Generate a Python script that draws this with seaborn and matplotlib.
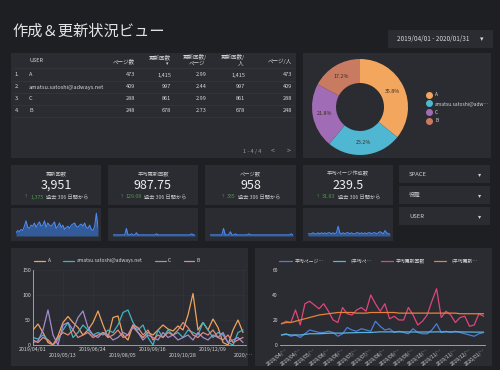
import matplotlib
matplotlib.use("Agg")
import numpy as np
import pandas as pd
import matplotlib.pyplot as plt
import seaborn as sns
from matplotlib.patches import Rectangle
from matplotlib.lines import Line2D
from matplotlib.offsetbox import TextArea, HPacker, AnnotationBbox

# ---- データ ----
users = ["A", "amatsu.satoshi@adways.net", "C", "B"]
users_short = ["A", "amatsu.satoshi@adw…", "C", "B"]
pages = [473, 409, 288, 248]
updates = [1415, 997, 861, 678]
upd_per_page = [2.99, 2.44, 2.99, 2.73]
upd_per_user = [1415, 997, 861, 678]
page_per_user = [473, 409, 288, 248]

kpi_titles = ["更新回数", "平均更新回数", "ページ数", "平均ページ作成数"]
kpi_values = ["3,951", "987.75", "958", "239.5"]
kpi_deltas = ["1,375", "129.08", "335", "31.83"]

spark_update = [3, 5, 4, 6, 5, 9, 14, 8, 7, 10, 9, 12, 8, 11, 13, 9, 10, 14, 8, 12,
                10, 9, 11, 13, 7, 9, 12, 8, 10, 6, 8, 9, 7, 10, 11, 12, 9, 8, 10, 11,
                9, 12, 8, 7, 10, 6, 5, 9, 21, 8]
spark_avg_update = [1, 1, 1, 1, 1, 1, 1, 1, 7, 1, 1, 2, 1, 1, 3, 1, 1, 1, 1, 1,
                    1, 1, 1, 1, 1, 1, 2, 1, 1, 1, 1, 1, 1, 1, 1, 1, 1, 1, 1, 1,
                    1, 1, 1, 1, 1, 1, 1, 2, 1, 1]
spark_pages = [1, 1, 1, 1, 1, 1, 1, 1, 7, 1, 1, 1, 4, 1, 1, 2, 1, 1, 1, 1,
               1, 1, 1, 2, 1, 1, 1, 1, 1, 1, 1, 1, 1, 1, 1, 1, 1, 1, 1, 1,
               1, 1, 1, 1, 1, 1, 1, 1, 2, 1]
spark_avg_pages = [2, 2, 2, 3, 2, 2, 3, 2, 3, 2, 3, 2, 3, 3, 2, 3, 2, 3, 9, 3,
                   2, 3, 2, 3, 3, 2, 3, 2, 2, 3, 3, 2, 3, 2, 3, 2, 3, 3, 2, 3,
                   3, 2, 3, 4, 3, 2, 5, 3, 2, 2]

filters = ["SPACE", "役職", "USER"]

# 週次推移（2019/04/01〜）
line_a = [30, 42, 25, 5, 0, 18, 45, 57, 45, 35, 20, 30, 45, 68, 40, 15, 55, 58, 20, 10,
          40, 25, 15, 25, 20, 30, 40, 32, 28, 38, 30, 60, 103, 30, 45, 30, 52, 35, 5, 0,
          30, 50, 25]
line_amatsu = [15, 12, 20, 10, 0, 10, 30, 45, 15, 25, 40, 30, 20, 25, 20, 30, 25, 40, 65, 70,
               45, 30, 40, 15, 0, 30, 15, 30, 20, 25, 15, 30, 25, 20, 45, 30, 15, 25, 20, 5,
               0, 25, 30]
line_c = [5, 8, 30, 70, 20, 0, 40, 45, 30, 55, 68, 35, 20, 15, 25, 20, 10, 15, 25, 20,
          35, 25, 10, 20, 15, 10, 25, 15, 20, 10, 15, 20, 10, 25, 15, 10, 20, 15, 25, 5,
          10, 15, 5]
line_b = [10, 5, 15, 10, 0, 15, 25, 20, 30, 15, 20, 25, 15, 20, 25, 15, 20, 30, 15, 20,
          40, 35, 20, 30, 10, 20, 15, 25, 20, 30, 45, 35, 20, 15, 25, 20, 30, 15, 10, 20,
          5, 10, 15]
left_ticks = ["2019/04/01", "\n2019/05/13", "2019/06/24", "\n2019/08/05",
              "2019/09/16", "\n2019/10/28", "2019/12/09", "\n2020/…"]

avg_page = [8, 9, 7, 8, 6, 9, 12, 11, 10, 10, 11, 10, 7, 9, 14, 12, 11, 13, 12, 11,
            19, 15, 12, 13, 10, 11, 10, 9, 13, 10, 9, 9, 12, 17, 10, 11, 10, 11, 10, 9,
            8, 7, 9, 10]
avg_page_cum = [8, 8.5, 8, 8, 8, 8.5, 9, 9, 9, 9.2, 9.4, 9.5, 9.5, 9.5, 9.7, 9.8, 9.9, 10,
                10, 10, 10.3, 10.5, 10.5, 10.5, 10.5, 10.5, 10.5, 10.4, 10.4, 10.4, 10.4,
                10.4, 10.4, 10.5, 10.5, 10.5, 10.5, 10.5, 10.5, 10.4, 10.4, 10.3, 10.3, 10.3]
avg_update = [17, 19, 18, 28, 16, 33, 35, 32, 29, 33, 27, 20, 18, 30, 25, 24, 28, 30, 27, 40,
              33, 27, 33, 21, 23, 20, 20, 30, 24, 16, 19, 24, 35, 45, 22, 27, 24, 18, 22, 23,
              15, 16, 25, 23]
avg_update_cum = [17, 18, 18, 19, 20, 21, 22, 23, 24, 24.5, 25, 25.5, 26, 26, 26, 26, 25.5,
                  25.5, 25.5, 26, 26, 26, 26, 26, 26, 25.5, 25.5, 25.5, 25.5, 25.5, 25.5,
                  25.5, 25.5, 25.5, 25.5, 25.5, 25.5, 25.5, 25, 25, 25, 25, 25, 25]
right_names = ["平均ページ…", "（平均ペ…", "平均更新回数", "（平均更新…"]
right_ticks = ["2019/04/…", "2019/04/…", "2019/05/…", "2019/06/…", "2019/06/…",
               "2019/07/…", "2019/07/…", "2019/08/…", "2019/09/…", "2019/09/…",
               "2019/10/…", "2019/11/…", "2019/11/…", "2019/12/…", "2020/01/…"]

# ---- 色 ----
BG = "#1e1f23"
PANEL = "#2a2c31"
TXT = "#d6d6d6"
DIM = "#9a9a9a"
GREEN = "#4f9a4a"
SPARK = "#3d82f0"
pie_colors = ["#f2a65e", "#4fb7d1", "#a06cb6", "#c97b62"]
left_colors = ["#f0a35e", "#44b3c2", "#a48bd0", "#e08a80"]
right_colors = ["#4a7fd8", "#5bb3dd", "#e0457b", "#e8823a"]

sns.set_theme(style="dark")
plt.rcParams["font.family"] = ["Noto Sans CJK JP", "DejaVu Sans"]
plt.rcParams["axes.unicode_minus"] = False

W, H = 500, 370
fig = plt.figure(figsize=(5, 3.7), dpi=100, facecolor=BG)


def fx(x):
    return x / W


def fy(y):
    return 1 - y / H


def rect(x, y, w, h):
    return [x / W, 1 - (y + h) / H, w / W, h / H]


def box(x, y, w, h, color=PANEL):
    fig.add_artist(Rectangle((x / W, 1 - (y + h) / H), w / W, h / H,
                             transform=fig.transFigure, facecolor=color,
                             edgecolor="none", zorder=0))


def txt(x, y, s, size=4, color=TXT, ha="left", **kw):
    fig.text(fx(x), fy(y), s, size=size, color=color, ha=ha, va="center", **kw)


# タイトル・期間
txt(12, 31, "作成＆更新状況ビュー", size=11, color="#e4e4e4")
box(388, 30, 105, 18)
txt(397, 39, "2019/04/01 - 2020/01/31", size=4.6, color=TXT)
txt(482, 39, "▾", size=5, color=TXT, ha="center")

# ---- テーブル ----
box(11, 53, 285, 105)
txt(29, 61, "USER", size=4)
txt(135, 61, "ページ数", size=4, ha="right")
txt(171, 57, "更新回数", size=4, ha="right")
txt(167, 63.5, "▾", size=3.5, ha="center")
txt(207, 57, "更新回数/", size=4, ha="right")
txt(205, 63, "ページ", size=4, ha="right")
txt(245, 57, "更新回数/", size=4, ha="right")
txt(241, 63, "人", size=4, ha="center")
txt(292, 61, "ページ/人", size=4, ha="right")
for ly in [68, 81, 93, 105, 117]:
    fig.add_artist(Line2D([fx(13), fx(294)], [fy(ly)] * 2, color="#3a3c43", lw=0.4,
                          transform=fig.transFigure))
row_y = [75, 87, 99, 111]
col_x = [135, 171, 207, 245, 292]
for i, u in enumerate(users):
    txt(15, row_y[i], f"{i + 1}.", size=4)
    txt(29, row_y[i], u, size=4)
    vals = [f"{pages[i]:,}", f"{updates[i]:,}", f"{upd_per_page[i]:.2f}",
            f"{upd_per_user[i]:,}", f"{page_per_user[i]:,}"]
    for cx, v in zip(col_x, vals):
        txt(cx, row_y[i], v, size=4, ha="right")
txt(252, 151, "1 - 4 / 4", size=4, color=DIM, ha="center")
txt(273, 151, "<", size=5, color=DIM, ha="center")
txt(289, 151, ">", size=5, color=DIM, ha="center")

# ---- ドーナツ ----
box(303, 53, 188, 105)
ax_pie = fig.add_axes(rect(312, 59, 96, 96))
ax_pie.set_facecolor("none")
wedges, _, autotexts = ax_pie.pie(updates, colors=pie_colors, startangle=90, counterclock=False,
                                  autopct="%1.1f%%", pctdistance=0.75,
                                  wedgeprops=dict(width=0.5, edgecolor="none"),
                                  textprops=dict(size=3.8, color="#3a2a20"))
ax_pie.set_xlim(-1, 1)
ax_pie.set_ylim(-1, 1)
ax_pie.set_aspect("equal")
handles = [Line2D([], [], marker="o", ls="", color=c, ms=4) for c in pie_colors]
ax_pie.legend(handles, users_short, loc="upper left", bbox_to_anchor=(fx(422), fy(90)),
              bbox_transform=fig.transFigure, frameon=False, fontsize=3.5, labelcolor=TXT,
              handletextpad=0.2, labelspacing=0.75, borderpad=0)

# ---- KPI ----
card_x = [11, 108, 205, 303]
card_w = [90, 90, 91, 90]
sparks = [spark_update, spark_avg_update, spark_pages, spark_avg_pages]
for i in range(4):
    x0, w = card_x[i], card_w[i]
    cx = x0 + w / 2
    box(x0, 165, w, 40)
    txt(cx, 174, kpi_titles[i], size=3.8, color="#c8c8c8", ha="center")
    txt(cx, 185.5, kpi_values[i], size=9, color="#eeeeee", ha="center")
    parts = HPacker(children=[
        TextArea("↑", textprops=dict(size=3, color=GREEN)),
        TextArea(kpi_deltas[i], textprops=dict(size=3.8, color=GREEN)),
        TextArea("過去 306 日間から", textprops=dict(size=3.8, color="#c8c8c8")),
    ], sep=1.5, align="baseline")
    fig.add_artist(AnnotationBbox(parts, (fx(cx), fy(197)), xycoords="figure fraction",
                                  frameon=False, box_alignment=(0.5, 0.5), pad=0))

    # スパークライン
    box(x0, 208, w, 33)
    ax_s = fig.add_axes(rect(x0 + 5, 211, w - 8, 25))
    ax_s.set_facecolor("none")
    sx = np.arange(len(sparks[i]))
    ax_s.fill_between(sx, sparks[i], color=SPARK, alpha=0.55, lw=0)
    sns.lineplot(x=sx, y=sparks[i], ax=ax_s, color="#4d8ff8", lw=0.7)
    ax_s.set_xlim(0, len(sx) - 1)
    ax_s.set_ylim(0, 23)
    ax_s.axis("off")

# ---- フィルタ ----
for k, name in enumerate(filters):
    y0 = 165 + k * 21
    box(399, y0, 91, 18)
    txt(409, y0 + 9, name, size=4.2, color="#d0d0d0")
    txt(480, y0 + 9, "▾", size=4.5, color="#d0d0d0", ha="center")

# ---- 下段左：ユーザー別推移 ----
box(11, 248, 237, 118)
ax_l = fig.add_axes(rect(33, 270, 213, 75))
ax_l.set_facecolor("none")
weeks = np.arange(len(line_a))
df_l = pd.DataFrame({
    "week": np.tile(weeks, 4),
    "value": line_a + line_amatsu + line_c + line_b,
    "user": np.repeat(users, len(weeks)),
})
sns.lineplot(data=df_l, x="week", y="value", hue="user", palette=left_colors,
             ax=ax_l, lw=0.9)
ax_l.set_ylim(0, 150)
ax_l.set_xlim(0, 42.6)
ax_l.set_yticks([0, 50, 100, 150])
ax_l.set_xticks(np.arange(0, 43, 6))
ax_l.set_xticklabels(left_ticks)
ax_l.grid(True, color="#34363c", lw=0.4)
ax_l.tick_params(colors=TXT, labelsize=3.8, length=0, pad=1.5)
for s in ["top", "right"]:
    ax_l.spines[s].set_visible(False)
for s in ["left", "bottom"]:
    ax_l.spines[s].set_color("#b0b0b0")
    ax_l.spines[s].set_linewidth(0.6)
ax_l.set_xlabel("")
ax_l.set_ylabel("")
ax_l.legend(loc="upper left", bbox_to_anchor=(fx(32), fy(256)), bbox_transform=fig.transFigure,
            ncol=4, frameon=False, fontsize=3.5, labelcolor=TXT, handlelength=2.2,
            handletextpad=0.5, columnspacing=2.6, borderpad=0)

# ---- 下段右：平均推移 ----
box(255, 248, 237, 118)
ax_r = fig.add_axes(rect(280, 270, 205, 75))
ax_r.set_facecolor("none")
wk = np.arange(len(avg_page))
df_r = pd.DataFrame({
    "week": np.tile(wk, 4),
    "value": avg_page + avg_page_cum + avg_update + avg_update_cum,
    "series": np.repeat(right_names, len(wk)),
})
sns.lineplot(data=df_r, x="week", y="value", hue="series", palette=right_colors,
             ax=ax_r, lw=0.9)
ax_r.set_ylim(0, 60)
ax_r.set_xlim(-0.3, 43.3)
ax_r.set_yticks([0, 20, 40, 60])
ax_r.set_xticks(np.arange(1, 44, 3))
ax_r.set_xticklabels(right_ticks, rotation=38, ha="right", rotation_mode="anchor")
ax_r.grid(False)
ax_r.tick_params(colors=TXT, labelsize=3.6, length=0, pad=1.5)
for s in ["top", "right", "left"]:
    ax_r.spines[s].set_visible(False)
ax_r.spines["bottom"].set_color("#b0b0b0")
ax_r.spines["bottom"].set_linewidth(0.6)
ax_r.set_xlabel("")
ax_r.set_ylabel("")
ax_r.legend(loc="upper left", bbox_to_anchor=(fx(277), fy(256)), bbox_transform=fig.transFigure,
            ncol=4, frameon=False, fontsize=3.5, labelcolor=TXT, handlelength=2.6,
            handletextpad=0.5, columnspacing=1.8, borderpad=0)

fig.savefig("out.png", dpi=100, facecolor=BG)
